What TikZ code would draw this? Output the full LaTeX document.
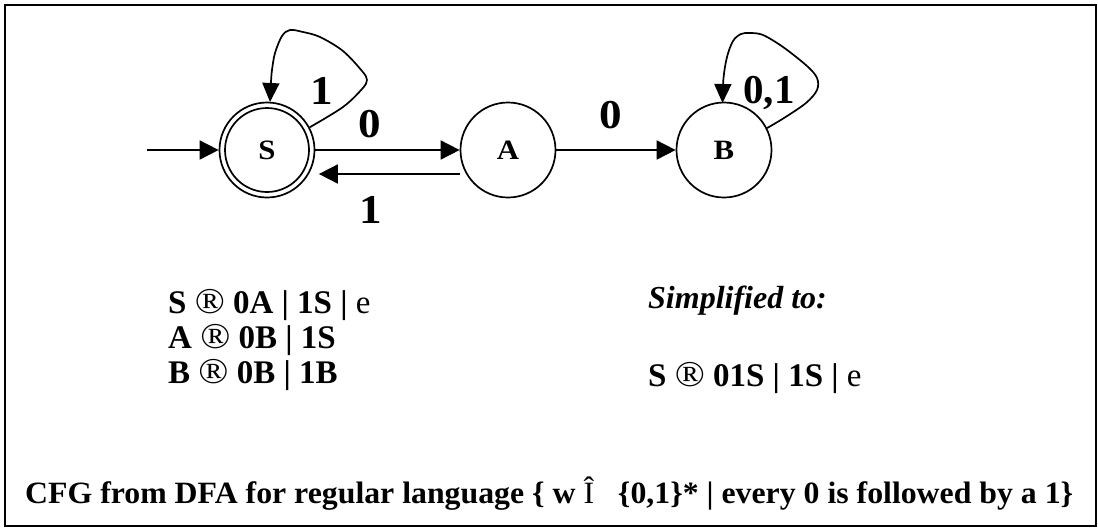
\documentclass[tikz,border=0pt]{standalone}
\usepackage{fontspec}
\usepackage{graphicx}
\setmainfont{Liberation Serif}
\usetikzlibrary{arrows.meta}
\tikzset{
  stateN/.style={circle, draw, line width=1.7pt, minimum size=95pt, inner sep=0pt,
    font=\fontsize{28}{28}\selectfont\bfseries},
  trans/.style={line width=1.7pt, -{Triangle[length=19pt,width=19pt]}},
  loopT/.style={line width=1.7pt, -{Triangle[length=19pt,width=17pt]}},
  lab/.style={inner sep=0pt, anchor=base, font=\fontsize{41}{41}\selectfont\bfseries},
  gram/.style={inner sep=0pt, anchor=base west, font=\fontsize{33}{35}\selectfont\bfseries},
  capt/.style={inner sep=0pt, anchor=base west, font=\fontsize{31}{31}\selectfont\bfseries},
}
\newcommand{\wideX}[1]{\scalebox{1.1}[1]{#1}}
\newcommand{\regR}{{\mdseries\scalebox{1.2}[1.1]{®}}}
\begin{document}
\begin{tikzpicture}[x=1pt,y=-1pt]
\useasboundingbox (0,0) rectangle (1098,531);
\draw[line width=2pt] (5,5) rectangle (1096,526);

% states
\node[stateN] (S) at (267,150) {\wideX{S}};
\node[stateN] (A) at (508,150) {\wideX{A}};
\node[stateN] (B) at (724,150) {\wideX{B}};
\draw[line width=1.7pt] (S.center) circle[radius=42pt];

% start arrow
\coordinate (start) at (147,150);
\draw[trans] (start) -- (S.west);

% transitions
\draw[trans] (S.east) -- (A.west);
\draw[trans, shorten >=3.5pt] ([yshift=-24pt]A.west) -- ([yshift=-24pt]S.east);
\draw[trans] (A.east) -- (B.west);

% self loops
\draw[loopT] plot[smooth, tension=0.55] coordinates {
  (S.28) (343,107) (362,89) (367,80) (362,71) (343,51) (320,37) (303,32)
  (290,30) (282,36) (275,53) (272,70) (271,82) (270,102)};
\draw[loopT] plot[smooth, tension=0.55] coordinates {
  (B.27) (784,118) (806,103) (817,90) (817,78) (807,66) (783,47) (763,35)
  (750,33) (741,34) (733,41) (727,57) (723.5,78) (722.5,103)};

% edge labels
\node[lab] (l1) at (322,104) {\wideX{1}};
\node[lab] (l0) at (370,137) {\wideX{0}};
\node[lab] (l1b) at (371,223) {\wideX{1}};
\node[lab] (l0b) at (611,128) {\wideX{0}};
\node[lab] (l01) at (769,103) {0,1};

% grammar
\node[gram] (g1) at (168,313) {S \regR{} 0A | 1S | {\mdseries e}};
\node[gram] (g2) at (168,348) {A \regR{} 0B | 1S};
\node[gram] (g3) at (168,383) {B \regR{} 0B | 1B};
\node[gram, font=\fontsize{32}{35}\selectfont\bfseries\itshape] (simp) at (648,308) {Simplified to:};
\node[gram] (g4) at (648,386) {S \regR{} 01S | 1S | {\mdseries e}};

% caption
\node[capt] (cap) at (25,503) {\resizebox{1048pt}{\height}{CFG from DFA for regular language \{ w {\mdseries Î}\hspace{0.5em} \{0,1\}* | every 0 is followed by a 1\}}};
\end{tikzpicture}
\end{document}
